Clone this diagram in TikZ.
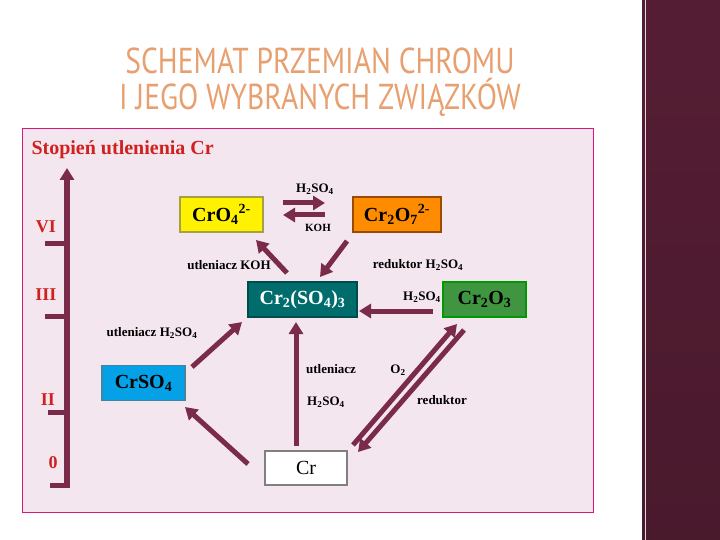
\documentclass[tikz,border=0pt]{standalone}
\usepackage{fontspec}
\setmainfont{Liberation Serif}
\newfontfamily\titlefont{PT Sans}
\usetikzlibrary{arrows.meta}
\definecolor{arr}{HTML}{7A2A4A}
\definecolor{panel}{HTML}{F4E6EE}
\definecolor{rd}{HTML}{D02020}
\definecolor{ttl}{HTML}{E8A070}
\newcommand{\sbs}[1]{\textsubscript{#1}}
\tikzset{
  box/.style={draw=#1!60!black, line width=1.5pt, minimum height=35pt, inner sep=0pt, font=\bfseries\fontsize{20}{22}\selectfont},
  rx/.style={line width=5pt, draw=arr, -{Triangle[length=12pt,width=14pt]}},
  lbl/.style={font=\bfseries\fontsize{13}{15}\selectfont, inner sep=1pt},
  ox/.style={font=\bfseries\fontsize{18}{20}\selectfont, text=rd},
  ttlst/.style={font=\titlefont\fontsize{36}{40}\selectfont, text=ttl, xscale=0.82},
}
\begin{document}
\begin{tikzpicture}[x=1pt,y=-1pt]
\useasboundingbox (0,0) rectangle (720,540);
\fill[white] (0,0) rectangle (720,540);
\shade[top color=arr!70!black, bottom color=arr!60!black] (642,0) rectangle (720,540);
\draw[white!80!arr, line width=0.8pt] (645,0) -- (645,540);
\node[ttlst] (t1) at (320,61) {SCHEMAT PRZEMIAN CHROMU};
\node[ttlst] (t2) at (320,97) {I JEGO WYBRANYCH ZWIĄZKÓW};
\draw[fill=panel, draw=magenta!70!purple, line width=0.8pt] (22,128) rectangle (593,512);
\node[font=\bfseries\fontsize{20}{22}\selectfont, text=rd, anchor=west] (st) at (28,150) {Stopień utlenienia Cr};
% axis
\draw[line width=5.5pt, draw=arr, -{Triangle[length=12pt,width=14pt]}] (67,485) -- (67,168);
\coordinate (a1) at (45,243); \coordinate (a1e) at (67,243);
\coordinate (a2) at (45,316); \coordinate (a2e) at (67,316);
\coordinate (a3) at (48,412); \coordinate (a3e) at (67,412);
\coordinate (a4) at (50,485); \coordinate (a4e) at (69.75,485);
\foreach \p in {1,2,3,4} \draw[line width=5pt, draw=arr] (a\p) -- (a\p e);
\node[ox] (vi) at (46,227) {VI};
\node[ox] (iii) at (46,295) {III};
\node[ox] (ii) at (48,400) {II};
\node[ox] (zero) at (53,463) {0};
% boxes
\node[box=yellow, fill=yellow, minimum width=83pt] (cro4) at (221.5,214.5) {CrO\sbs{4}\textsuperscript{2-}};
\node[box=orange, fill=orange!90!yellow, minimum width=88pt] (cr2o7) at (397,214.5) {Cr\sbs{2}O\sbs{7}\textsuperscript{2-}};
\node[box=teal, fill=teal!85!black, text=white, minimum width=109pt] (crs) at (302.5,299.5) {Cr\sbs{2}(SO\sbs{4})\sbs{3}};
\node[box=green, fill=green!45!black!75, minimum width=83pt] (cr2o3) at (484.5,299.5) {Cr\sbs{2}O\sbs{3}};
\node[box=cyan, fill=cyan!90!blue, minimum width=83pt] (crso4) at (143.5,383) {CrSO\sbs{4}};
\node[draw=gray, line width=2pt, fill=white, minimum width=82pt, minimum height=34pt, inner sep=0pt, font=\fontsize{20}{22}\selectfont] (cr) at (306,468) {Cr};
% arrows
\coordinate (h1) at (283,203); \coordinate (h2) at (325,203);
\coordinate (k1) at (325,215); \coordinate (k2) at (283,215);
\draw[rx] (h1) -- (h2); \draw[rx] (k1) -- (k2);
\node[lbl] (lh) at (315,189) {H\sbs{2}SO\sbs{4}};
\node[lbl, font=\bfseries\fontsize{11}{13}\selectfont] (lk) at (318,228) {KOH};
\coordinate (b1) at (287,273); \coordinate (b2) at (256,240);
\draw[rx] (b1) -- (b2);
\node[lbl] (l1) at (229,265) {utleniacz KOH};
\coordinate (c1) at (347,241); \coordinate (c2) at (320,277);
\draw[rx] (c1) -- (c2);
\node[lbl] (l2) at (418,265) {reduktor H\sbs{2}SO\sbs{4}};
\coordinate (d1) at (433,311); \coordinate (d2) at (359,311);
\draw[rx] (d1) -- (d2);
\node[lbl] (l3) at (422,297) {H\sbs{2}SO\sbs{4}};
\coordinate (e1) at (192,367); \coordinate (e2) at (242,322);
\draw[rx] (e1) -- (e2);
\node[lbl] (l4) at (152,333) {utleniacz H\sbs{2}SO\sbs{4}};
\coordinate (f1) at (296,446); \coordinate (f2) at (296,322);
\draw[rx] (f1) -- (f2);
\node[lbl] (l5) at (331,369) {utleniacz};
\node[lbl] (l6) at (326,402) {H\sbs{2}SO\sbs{4}};
\coordinate (g1) at (248,464); \coordinate (g2) at (185,407);
\draw[rx] (g1) -- (g2);
\coordinate (p1) at (353,445); \coordinate (p2) at (457,324);
\coordinate (q1) at (464,330); \coordinate (q2) at (358,452);
\draw[rx] (p1) -- (p2); \draw[rx] (q1) -- (q2);
\node[lbl] (l7) at (398,370) {O\sbs{2}};
\node[lbl] (l8) at (442,400) {reduktor};
\end{tikzpicture}
\end{document}
